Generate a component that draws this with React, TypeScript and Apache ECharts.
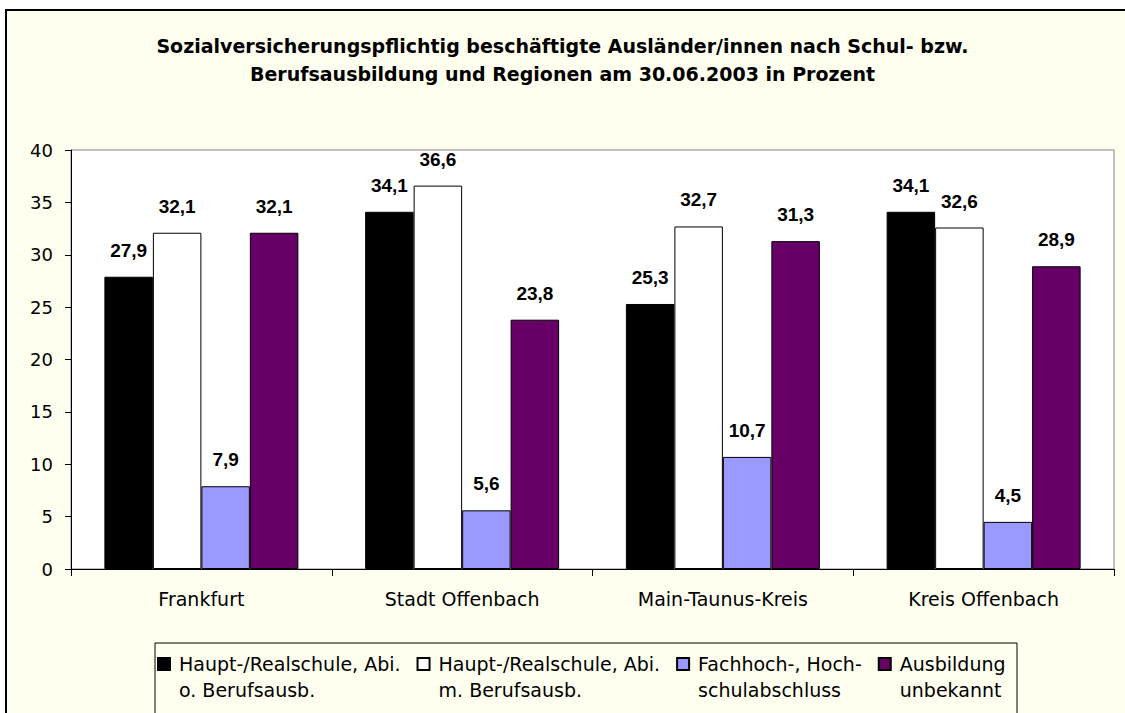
import React, { useEffect, useRef } from "react";
import * as echarts from "echarts";

const titleLines = [
  "Sozialversicherungspflichtig beschäftigte Ausländer/innen nach Schul- bzw.",
  "Berufsausbildung und Regionen am 30.06.2003 in Prozent",
];
const categories = ["Frankfurt", "Stadt Offenbach", "Main-Taunus-Kreis", "Kreis Offenbach"];
const seriesNames = [
  "Haupt-/Realschule, Abi.\no. Berufsausb.",
  "Haupt-/Realschule, Abi.\nm. Berufsausb.",
  "Fachhoch-, Hoch-\nschulabschluss",
  "Ausbildung\nunbekannt",
];
const seriesColors = ["#000000", "#FFFFFF", "#9999FF", "#660066"];
const ohneBerufsausb = [27.9, 34.1, 25.3, 34.1];
const mitBerufsausb = [32.1, 36.6, 32.7, 32.6];
const hochschule = [7.9, 5.6, 10.7, 4.5];
const unbekannt = [32.1, 23.8, 31.3, 28.9];
const seriesValues = [ohneBerufsausb, mitBerufsausb, hochschule, unbekannt];
const yTicks = { min: 0, max: 40, interval: 5 };

export default function App() {
  const ref = useRef<HTMLDivElement>(null);
  useEffect(() => {
    if (!ref.current) return;
    const chart = echarts.init(ref.current, null, { renderer: "svg" });
    const regular = "DejaVu Sans";
    chart.setOption({
      animation: false,
      backgroundColor: "transparent",
      title: {
        text: titleLines.join("\n"),
        left: "center",
        top: 32,
        padding: 0,
        textStyle: {
          fontFamily: regular,
          fontWeight: "bold",
          fontSize: 19,
          lineHeight: 28,
          color: "#000",
        },
      },
      grid: {
        left: 71,
        right: 11,
        top: 150,
        bottom: 144,
        show: true,
        backgroundColor: "#FFFFFF",
        borderColor: "#808080",
        borderWidth: 1,
      },
      xAxis: {
        type: "category",
        data: categories,
        axisLine: { show: true, lineStyle: { color: "#000", width: 1 } },
        axisTick: { show: true, length: 7, lineStyle: { color: "#000" } },
        axisLabel: { color: "#000", fontFamily: regular, fontSize: 19, margin: 20 },
        splitLine: { show: false },
      },
      yAxis: {
        type: "value",
        min: yTicks.min,
        max: yTicks.max,
        interval: yTicks.interval,
        axisLine: { show: true, lineStyle: { color: "#000", width: 1 } },
        axisTick: { show: true, length: 6, lineStyle: { color: "#000" } },
        axisLabel: { color: "#000", fontFamily: regular, fontSize: 18, margin: 18 },
        splitLine: { show: false },
      },
      legend: {
        left: 155,
        top: 625,
        padding: [0, 0, 0, 2],
        orient: "horizontal",
        icon: "rect",
        itemWidth: 12,
        itemHeight: 12,
        itemGap: 16,
        selectedMode: false,
        formatter: (name: string) => "\n" + name,
        textStyle: {
          fontFamily: regular,
          fontSize: 19,
          lineHeight: 26,
          color: "#000",
          padding: [0, 0, 0, 4],
        },
        data: seriesNames,
      },
      graphic: [
        {
          type: "rect",
          silent: true,
          shape: { x: 155, y: 643, width: 862, height: 100 },
          style: { fill: "none", stroke: "#000", lineWidth: 1 },
        },
      ],
      series: seriesNames.map((name, i) => ({
        name,
        type: "bar",
        data: seriesValues[i],
        barGap: "0%",
        barCategoryGap: "25.6%",
        itemStyle: { color: seriesColors[i], borderColor: "#000", borderWidth: 1 },
        label: {
          show: true,
          position: "top",
          distance: 17,
          color: "#000",
          fontFamily: "Liberation Sans, Arial",
          fontWeight: "bold",
          fontSize: 19,
          formatter: (p: any) => String(p.value).replace(".", ","),
        },
      })),
    });
    return () => chart.dispose();
  }, []);
  return (
    <div style={{ position: "fixed", left: 0, top: 0, width: 1125, height: 713, background: "#FFFFFF", overflow: "hidden" }}>
      <div
        style={{
          position: "absolute",
          left: 5,
          top: 9,
          width: 1200,
          height: 800,
          background: "#FFFFF0",
          borderLeft: "2px solid #000",
          borderTop: "2px solid #000",
        }}
      />
      <div ref={ref} style={{ position: "absolute", left: 0, top: 0, width: 1125, height: 713 }} />
    </div>
  );
}
